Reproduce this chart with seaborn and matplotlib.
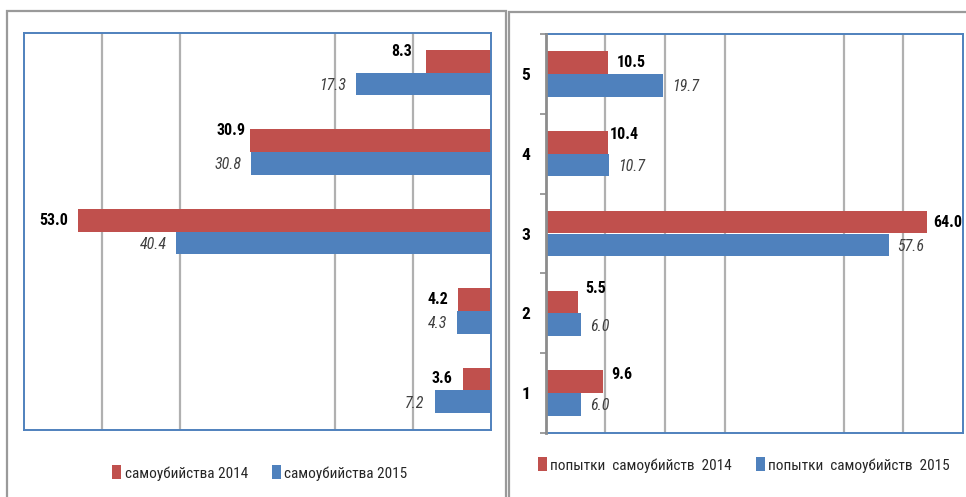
import matplotlib
matplotlib.use('Agg')
import matplotlib.pyplot as plt
import seaborn as sns
import pandas as pd
from matplotlib import font_manager
from matplotlib.patches import Rectangle
from matplotlib.ticker import FixedLocator

# ---------------- data ----------------
categories = ['5', '4', '3', '2', '1']
suicides_2014 = [8.3, 30.9, 53.0, 4.2, 3.6]
suicides_2015 = [17.3, 30.8, 40.4, 4.3, 7.2]
attempts_2014 = [10.5, 10.4, 64.0, 5.5, 9.6]
attempts_2015 = [19.7, 10.7, 57.6, 6.0, 6.0]
left_series = ['самоубийства 2014', 'самоубийства 2015']
right_series = ['попытки  самоубийств  2014', 'попытки  самоубийств  2015']
left_grid = [10, 20, 40, 50]
right_grid = [10, 20, 30, 50, 60]

# label nudges (pixels): extra gap / upward shift for the 2014 labels
left_dx14 = [14.5, 5, 10, 10, 10]
left_dy14 = [10, 10, 0, 0, 0]
right_dx14 = [9, 2.5, 6, 6.5, 8]
right_dy14 = [0, 8, 0, 13, 7]

RED = '#C0504D'
BLUE = '#4F81BD'


def pick(names):
    for n in names:
        try:
            font_manager.findfont(font_manager.FontProperties(family=n),
                                  fallback_to_default=False)
            return n
        except Exception:
            pass
    return 'DejaVu Sans'


FONT = pick(['Liberation Sans Narrow', 'Roboto Condensed', 'Liberation Sans'])

sns.set_theme(style='white')
plt.rcParams['font.family'] = [FONT, 'DejaVu Sans']

W, H = 966, 497
fig = plt.figure(figsize=(W / 100, H / 100), dpi=100)
fig.patch.set_facecolor('white')

PX = 72 / 100  # points per pixel
LBL = 11.5


def fx(px):
    return px / W


def fy(py):
    return 1 - py / H


axL = fig.add_axes([fx(24), fy(430), fx(490.7 - 24), (430 - 33) / H])
axR = fig.add_axes([fx(545.7), fy(433), fx(963 - 545.7), (433 - 34) / H])

df_left = pd.DataFrame({
    'cat': categories * 2,
    'value': suicides_2014 + suicides_2015,
    'series': [left_series[0]] * 5 + [left_series[1]] * 5,
})
df_right = pd.DataFrame({
    'cat': categories * 2,
    'value': attempts_2014 + attempts_2015,
    'series': [right_series[0]] * 5 + [right_series[1]] * 5,
})

for ax, df, series in [(axL, df_left, left_series), (axR, df_right, right_series)]:
    sns.barplot(data=df, x='value', y='cat', hue='series', orient='h',
                order=categories, hue_order=series, palette=[RED, BLUE],
                width=0.57, saturation=1, linewidth=0, ax=ax)
    ax.set_ylim(4.5, -0.5)
    ax.set_xlabel('')
    ax.set_ylabel('')
    ax.grid(False)
    for s in ax.spines.values():
        s.set_color(BLUE)
        s.set_linewidth(1.4)

axL.set_xlim(60, 0)
axR.set_xlim(0, 70)

for ax, ticks in [(axL, left_grid), (axR, right_grid)]:
    for t in ticks:
        ax.axvline(t, color='#B0B0B0', lw=1.6, zorder=0)
    ax.set_xticks([])

# left panel: no y labels
axL.set_yticks([])

# right panel: category labels + boundary ticks
axR.set_yticks(range(len(categories)))
axR.set_yticklabels(categories, fontsize=12.5, fontweight='bold', color='black')
axR.tick_params(axis='y', which='major', length=0, pad=11.3)
axR.yaxis.set_minor_locator(FixedLocator([i - 0.5 for i in range(len(categories) + 1)]))
axR.tick_params(axis='y', which='minor', left=True, length=4, width=1.2,
                color='#8C8C8C', direction='out')
axR.spines['left'].set_color('#8C8C8C')
axR.spines['left'].set_linewidth(2)
axR.spines['left'].set_zorder(5)


def label(ax, container, side, dxs, dys, bold):
    for i, rect in enumerate(container.patches):
        v = rect.get_width()
        y = rect.get_y() + rect.get_height() / 2
        dx = dxs[i] if dxs is not None else (10 if side == 'left' else 8.5)
        dy = dys[i] if dys is not None else -1.5
        ax.annotate(f'{v:.1f}', (v, y),
                    xytext=((-dx if side == 'left' else dx) * PX, dy * PX),
                    textcoords='offset points',
                    ha='right' if side == 'left' else 'left', va='center',
                    fontsize=LBL,
                    fontweight='bold' if bold else 'normal',
                    fontstyle='normal' if bold else 'italic',
                    color='black' if bold else '#404040',
                    annotation_clip=False, clip_on=False)


label(axL, axL.containers[0], 'left', left_dx14, left_dy14, True)
label(axL, axL.containers[1], 'left', None, None, False)
label(axR, axR.containers[0], 'right', right_dx14, right_dy14, True)
label(axR, axR.containers[1], 'right', None, None, False)

# legends
for ax, cx, cy in [(axL, 260, 473), (axR, 744, 465)]:
    h, l = ax.get_legend_handles_labels()
    if ax.get_legend() is not None:
        ax.get_legend().remove()
    ax.legend(h, l, loc='center', bbox_to_anchor=(fx(cx), fy(cy)),
              bbox_transform=fig.transFigure, ncol=2, frameon=False,
              fontsize=11, handlelength=0.6, handleheight=1.0,
              handletextpad=0.2, columnspacing=1.6, borderpad=0)

# outer panel frames
fig.add_artist(Rectangle((fx(7), -0.02), fx(506 - 7), fy(11) + 0.02,
                         transform=fig.transFigure, fill=False,
                         ec='#9A9A9A', lw=1.6))
fig.add_artist(Rectangle((fx(509), -0.02), fx(600), fy(12) + 0.02,
                         transform=fig.transFigure, fill=False,
                         ec='#9A9A9A', lw=1.6))

fig.savefig('out.png', dpi=100, facecolor='white')
